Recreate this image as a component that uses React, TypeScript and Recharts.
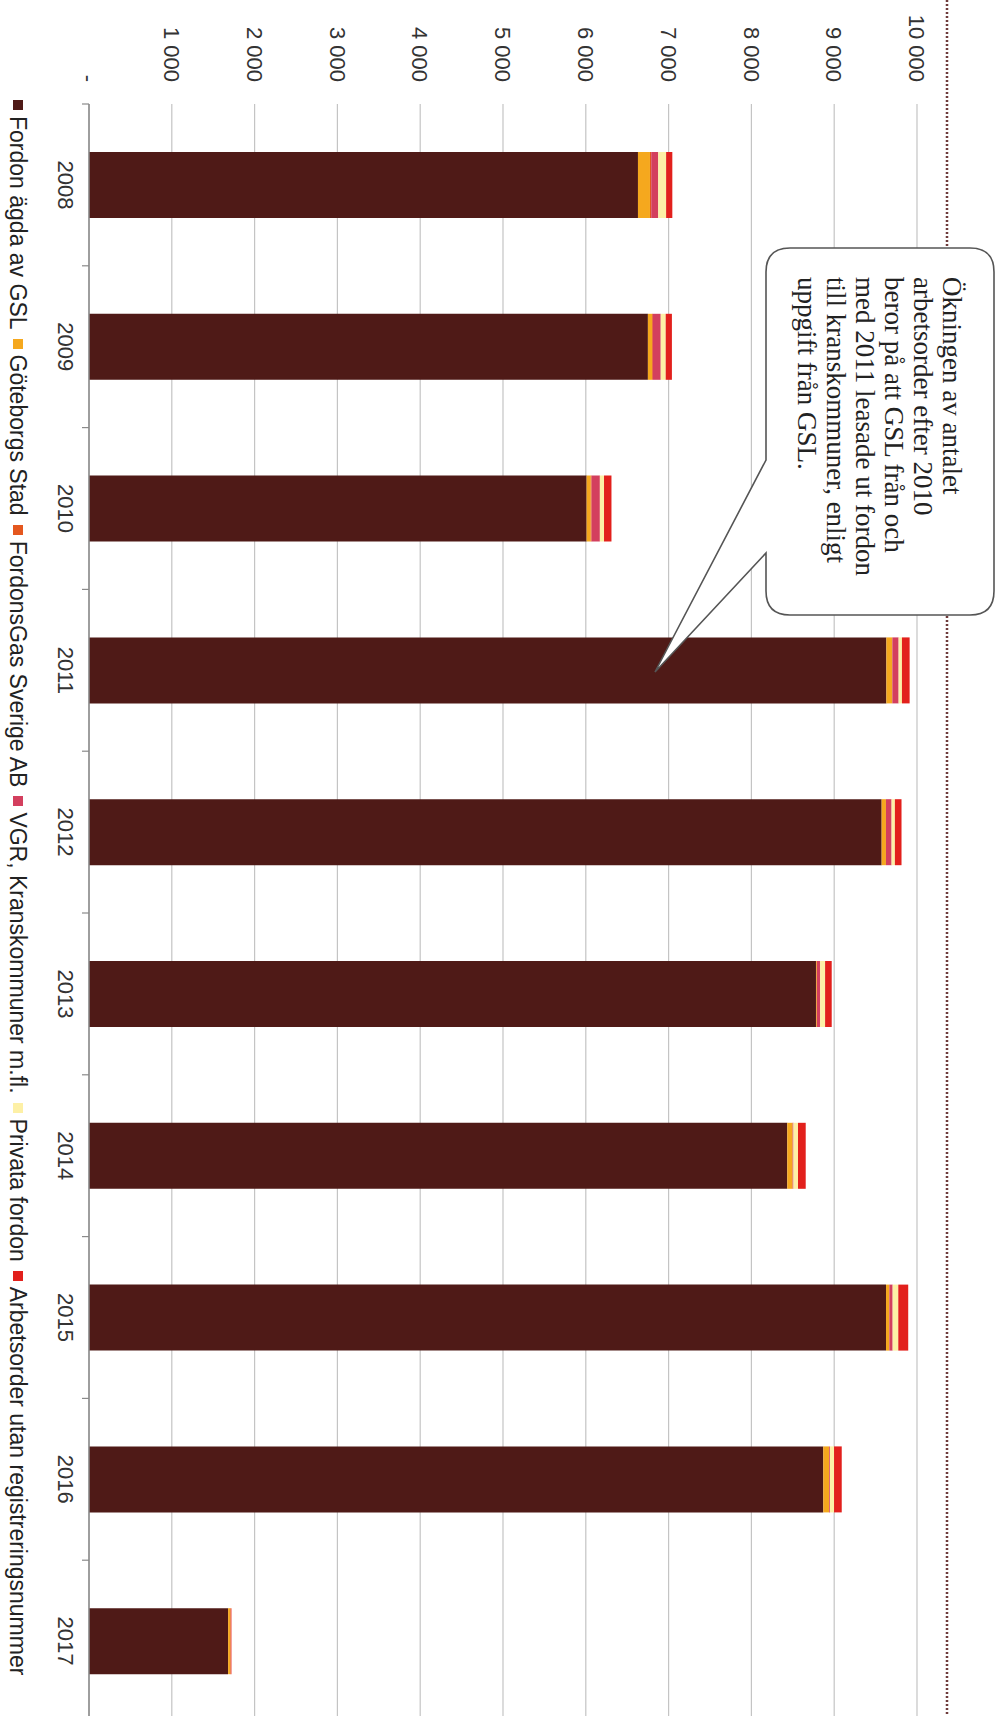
import React from 'react';
import { BarChart, Bar, XAxis, YAxis, CartesianGrid } from 'recharts';

// Arbetsorder per år, uppdelat på fordonsägare
const years = ['2008', '2009', '2010', '2011', '2012', '2013', '2014', '2015', '2016', '2017'];
const gslOwned = [6630, 6750, 6010, 9630, 9573, 8780, 8433, 9626, 8868, 1680];
const goteborgsStad = [145, 50, 50, 72, 52, 10, 65, 40, 72, 30];
const fordonsGas = [15, 10, 10, 0, 0, 0, 0, 0, 0, 0];
const vgr = [85, 95, 100, 76, 68, 40, 10, 40, 10, 0];
const privata = [95, 60, 50, 40, 40, 60, 55, 68, 48, 0];
const utanRegnr = [75, 75, 90, 93, 80, 80, 93, 120, 93, 10];

const valueTicks = [0, 1000, 2000, 3000, 4000, 5000, 6000, 7000, 8000, 9000, 10000];

const series = [
  { key: 'gsl', name: 'Fordon ägda av GSL', color: '#4f1a17' },
  { key: 'stad', name: 'Göteborgs Stad', color: '#f5a81e' },
  { key: 'fgas', name: 'FordonsGas Sverige AB', color: '#e4571e' },
  { key: 'vgr', name: 'VGR, Kranskommuner m.fl.', color: '#d33f5e' },
  { key: 'priv', name: 'Privata fordon', color: '#fdf0a6' },
  { key: 'utan', name: 'Arbetsorder utan registreringsnummer', color: '#e2201c' },
];

const calloutLines = [
  'Ökningen av antalet',
  'arbetsorder efter 2010',
  'beror på att GSL från och',
  'med 2011 leasade ut fordon',
  'till kranskommuner, enligt',
  'uppgift från GSL.',
];

const data = years.map((year, i) => ({
  year,
  gsl: gslOwned[i],
  stad: goteborgsStad[i],
  fgas: fordonsGas[i],
  vgr: vgr[i],
  priv: privata[i],
  utan: utanRegnr[i],
}));

// the chart is laid out upright and then turned a quarter clockwise
const CHART_W = 1730;
const CHART_H = 1005;
const AXIS_W = 104;
const MARGIN = { top: 88, right: 8, bottom: 0, left: 0 };
const SANS = '"Liberation Sans", Arial, sans-serif';

const formatValue = (v: number) =>
  v === 0 ? '-' : String(v).replace(/\B(?=(\d{3})+(?!\d))/g, ' ');

const YearTick = (props: any) => {
  const { x, y, payload } = props;
  const plotW = CHART_W - AXIS_W - MARGIN.right;
  const half = payload.offset ?? plotW / years.length / 2;
  return (
    <g>
      <line x1={x - half} x2={x - half} y1={y - 8} y2={y - 1} stroke="#8a8a8a" strokeWidth={1.2} />
      <text
        x={x}
        y={y + 16}
        textAnchor="middle"
        dominantBaseline="central"
        fill="#333"
        fontSize={22}
        fontFamily={SANS}
      >
        {payload.value}
      </text>
    </g>
  );
};

const Callout = () => {
  const left = 248;
  const right = 615;
  const top = 11;
  const bottom = 239;
  const r = 24;
  const path = [
    `M ${left + r} ${top}`,
    `L ${right - r} ${top}`,
    `Q ${right} ${top} ${right} ${top + r}`,
    `L ${right} ${bottom - r}`,
    `Q ${right} ${bottom} ${right - r} ${bottom}`,
    `L 553 ${bottom}`,
    `L 672 350`,
    `L 460 ${bottom}`,
    `L ${left + r} ${bottom}`,
    `Q ${left} ${bottom} ${left} ${bottom - r}`,
    `L ${left} ${top + r}`,
    `Q ${left} ${top} ${left + r} ${top}`,
    'Z',
  ].join(' ');
  return (
    <svg
      width={CHART_W}
      height={CHART_H}
      style={{ position: 'absolute', left: 0, top: 0, pointerEvents: 'none' }}
    >
      <line
        x1={0}
        x2={CHART_W}
        y1={58}
        y2={58}
        stroke="#6e3b3b"
        strokeWidth={2.5}
        strokeDasharray="2 2"
      />
      <path d={path} fill="#fff" stroke="#555" strokeWidth={1.6} />
      {calloutLines.map((line, i) => (
        <text
          key={i}
          x={277}
          y={53 + i * 29}
          dominantBaseline="central"
          fill="#222"
          fontSize={27}
          fontFamily='"Liberation Serif", "Times New Roman", serif'
        >
          {line}
        </text>
      ))}
    </svg>
  );
};

const LegendRow = () => (
  <div
    style={{
      position: 'absolute',
      left: 100,
      top: 973,
      height: 28,
      display: 'flex',
      alignItems: 'center',
      whiteSpace: 'nowrap',
      fontFamily: SANS,
      fontSize: 23,
      color: '#222',
    }}
  >
    {series.map((s) => (
      <div key={s.key} style={{ display: 'flex', alignItems: 'center', marginRight: 9 }}>
        <span
          style={{ width: 10, height: 10, background: s.color, marginRight: 6, display: 'inline-block' }}
        />
        {s.name}
      </div>
    ))}
  </div>
);

export default function App() {
  return (
    <div
      style={{
        position: 'absolute',
        left: 0,
        top: 0,
        width: 1005,
        height: 1716,
        overflow: 'hidden',
        background: '#fff',
      }}
    >
      <div
        style={{
          position: 'absolute',
          left: 0,
          top: 0,
          width: CHART_W,
          height: CHART_H,
          transformOrigin: '0 0',
          transform: 'translateX(1005px) rotate(90deg)',
        }}
      >
        <BarChart width={CHART_W} height={CHART_H} data={data} margin={MARGIN}>
          <CartesianGrid vertical={false} stroke="#c4c4c4" strokeWidth={1.2} />
          <XAxis
            dataKey="year"
            height={89}
            axisLine={{ stroke: '#8a8a8a', strokeWidth: 1.5 }}
            tickLine={false}
            tick={<YearTick />}
            interval={0}
          />
          <YAxis
            type="number"
            domain={[0, 10000]}
            ticks={valueTicks}
            width={AXIS_W}
            axisLine={false}
            tickLine={false}
            tickSize={0}
            tickMargin={22}
            tickFormatter={formatValue}
            tick={{ fill: '#333', fontSize: 22, fontFamily: SANS }}
          />
          {series.map((s) => (
            <Bar
              key={s.key}
              dataKey={s.key}
              name={s.name}
              stackId="total"
              fill={s.color}
              barSize={66}
              isAnimationActive={false}
            />
          ))}
        </BarChart>
        <Callout />
        <LegendRow />
      </div>
    </div>
  );
}
